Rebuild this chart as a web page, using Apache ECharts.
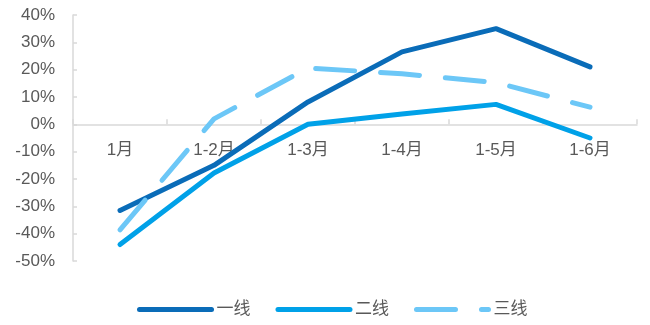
<!DOCTYPE html>
<html>
<head>
<meta charset="utf-8">
<script src="https://cdn.jsdelivr.net/npm/echarts@6/dist/echarts.min.js"></script>
<style>
  html, body { margin: 0; padding: 0; background: #fff; }
  #chart { width: 650px; height: 325px; }
</style>
</head>
<body>
<div id="chart"></div>
<script>
// Cumulative year-on-year change by city tier (%)
const categories = ['1月', '1-2月', '1-3月', '1-4月', '1-5月', '1-6月'];
const tier1 = [-31.5, -15.0, 8.2, 26.5, 35.0, 21.0];
const tier2 = [-44.0, -17.8, 0.0, 3.8, 7.3, -5.0];
const tier3 = [-38.6, 2.0, 20.6, 18.5, 15.3, 6.3];
const seriesNames = ['一线', '二线', '三线'];
const yTicks = { min: -50, max: 40, interval: 10 };

const textColor = '#595959';
const axisColor = '#d9d9d9';
const font = '"Liberation Sans", Arial, "Noto Sans CJK SC", sans-serif';

const W = 650, H = 325;
const gridBox = { left: 73, right: 13, top: 15, bottom: 64 };
const plotHeight = H - gridBox.top - gridBox.bottom;
// shift the category axis up so it sits on the 0% line
const zeroOffset = -((0 - yTicks.min) / (yTicks.max - yTicks.min)) * plotHeight;

const chart = echarts.init(document.getElementById('chart'), null, { renderer: 'canvas' });

function lineSeries(name, data, color, dashed) {
  return {
    name: name,
    type: 'line',
    data: data,
    symbol: 'none',
    smooth: false,
    lineStyle: {
      color: color,
      width: 5,
      type: dashed ? [39, 26] : 'solid',
      cap: 'round',
      join: 'round'
    },
    itemStyle: { color: color }
  };
}

chart.setOption({
  animation: false,
  textStyle: { fontFamily: font },
  grid: Object.assign({ containLabel: false }, gridBox),
  legend: {
    bottom: 2,
    left: 132,
    itemWidth: 72,
    itemHeight: 14,
    itemGap: 25,
    itemStyle: { opacity: 0 },
    lineStyle: { width: 5, cap: 'round' },
    textStyle: { color: textColor, fontSize: 17, fontFamily: font },
    data: seriesNames
  },
  xAxis: {
    type: 'category',
    data: categories,
    boundaryGap: true,
    offset: zeroOffset,
    axisLine: { onZero: false, lineStyle: { color: axisColor, width: 1.5 } },
    axisTick: { show: true, inside: true, length: 5, lineStyle: { color: axisColor, width: 1.5 } },
    axisLabel: { color: textColor, fontSize: 17, margin: 17, fontFamily: font },
    splitLine: { show: false }
  },
  yAxis: {
    type: 'value',
    min: yTicks.min,
    max: yTicks.max,
    interval: yTicks.interval,
    axisLine: { show: true, lineStyle: { color: axisColor, width: 1.5 } },
    axisTick: { show: true, inside: true, length: 4, lineStyle: { color: axisColor, width: 1.5 } },
    axisLabel: { color: textColor, fontSize: 17, margin: 18, formatter: '{value}%', fontFamily: font },
    splitLine: { show: false }
  },
  series: [
    lineSeries(seriesNames[0], tier1, '#0a6cb8', false),
    lineSeries(seriesNames[1], tier2, '#00a1e8', false),
    lineSeries(seriesNames[2], tier3, '#6cc7f7', true)
  ]
});
</script>
</body>
</html>
